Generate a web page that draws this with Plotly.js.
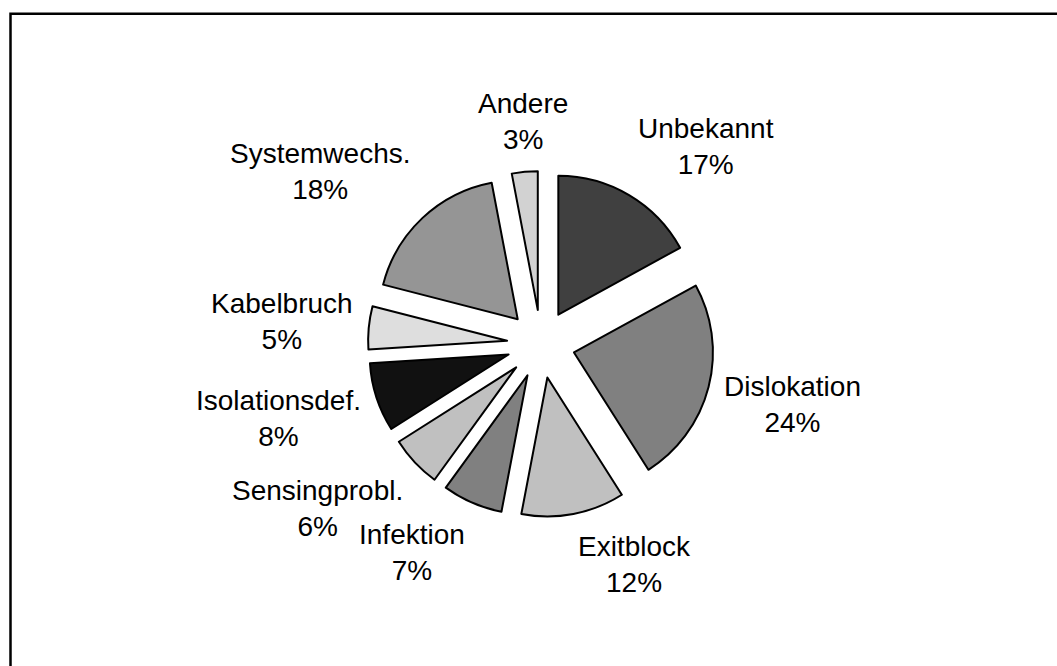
<!DOCTYPE html>
<html>
<head>
<meta charset="utf-8">
<script src="https://cdn.plot.ly/plotly-3.0.1.min.js"></script>
<style>
  html, body { margin: 0; padding: 0; background: #ffffff; }
  #chart { width: 1057px; height: 666px; }
</style>
</head>
<body>
<div id="chart"></div>
<script>
// ---- data ----
var categories = ["Unbekannt", "Dislokation", "Exitblock", "Infektion", "Sensingprobl.",
                  "Isolationsdef.", "Kabelbruch", "Systemwechs.", "Andere"];
var percentValues = [17, 24, 12, 7, 6, 8, 5, 18, 3];
var sliceColors = ["#404040", "#808080", "#c0c0c0", "#808080", "#c0c0c0",
                   "#111111", "#dedede", "#959595", "#d2d2d2"];

// ---- layout geometry (figure pixels) ----
var W = 1057, H = 666;
var cx = 541, cy = 344;       // pie centre
var pull = 0.245;             // explosion as a fraction of radius
var box = 346;                // pie domain size in px
var radius = box / (2 * (1 + pull));
var fontSize = 28;
var labelGap = 14;            // gap between exploded slice edge and label

var domainX = [(cx - box / 2) / W, (cx + box / 2) / W];
var domainY = [(H - cy - box / 2) / H, (H - cy + box / 2) / H];

var total = percentValues.reduce(function (a, b) { return a + b; }, 0);

// ---- labels computed from the slice bisectors ----
var annotations = [];
var cum = 0;
var rLabel = radius * (1 + pull) + labelGap;
var halfH = fontSize * 1.3;
for (var i = 0; i < categories.length; i++) {
  var mid = (cum + percentValues[i] / 2) / total * 2 * Math.PI;
  cum += percentValues[i];
  var ux = Math.sin(mid), uy = -Math.cos(mid);
  var px = cx + rLabel * ux;
  var py = cy + rLabel * uy;
  var f = Math.max(-1, Math.min(1, 1.5 * uy));
  py = py + halfH * f;
  var xa = ux > 0.15 ? "left" : (ux < -0.15 ? "right" : "center");
  annotations.push({
    xref: "paper", yref: "paper",
    x: px / W, y: 1 - py / H,
    xanchor: xa, yanchor: "middle",
    text: categories[i] + "<br>" + percentValues[i] + "%",
    showarrow: false, align: "center",
    font: { family: "Liberation Sans, Arial, sans-serif", size: fontSize, color: "#000000" }
  });
}

var trace = {
  type: "pie",
  labels: categories,
  values: percentValues,
  sort: false,
  direction: "clockwise",
  rotation: 0,
  pull: pull,
  textinfo: "none",
  hoverinfo: "label+percent",
  marker: { colors: sliceColors, line: { color: "#000000", width: 2 } },
  domain: { x: domainX, y: domainY },
  showlegend: false
};

var layout = {
  width: W, height: H,
  margin: { l: 0, r: 0, t: 0, b: 0, pad: 0 },
  paper_bgcolor: "#ffffff",
  plot_bgcolor: "#ffffff",
  showlegend: false,
  annotations: annotations,
  shapes: [{
    type: "rect", xref: "paper", yref: "paper",
    x0: 10.5 / W, x1: 1.2, y0: -0.2, y1: 1 - 13.8 / H,
    line: { color: "#000000", width: 2.5 },
    fillcolor: "rgba(0,0,0,0)"
  }]
};

Plotly.newPlot("chart", [trace], layout, { displayModeBar: false, staticPlot: true });
</script>
</body>
</html>
